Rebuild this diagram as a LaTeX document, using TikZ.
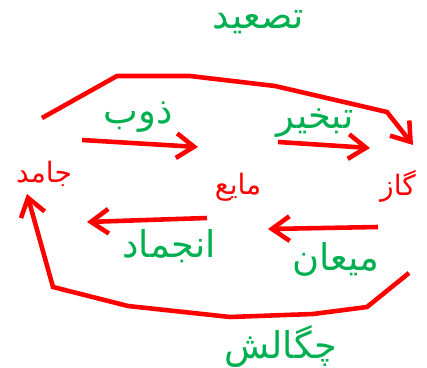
\documentclass[tikz,border=0pt]{standalone}
\usepackage{fontspec}
\usetikzlibrary{arrows.meta}
\TeXXeTstate=1
\newfontfamily\arabicfont[Script=Arabic]{DejaVu Sans}
\definecolor{pgreen}{HTML}{00B050}
\definecolor{pred}{HTML}{FF0000}
\tikzset{
  flow/.style={draw=pred, line width=2.6pt, line join=miter, -{Straight Barb[length=10pt,width=14pt]}},
  greenlbl/.style={text=pgreen, font=\arabicfont\fontsize{21}{24}\selectfont, inner sep=0pt},
  redlbl/.style={text=pred, font=\arabicfont\fontsize{16}{18}\selectfont, inner sep=0pt}
}
\begin{document}
\begin{tikzpicture}[x=0.02cm,y=-0.02cm]
\useasboundingbox (0,0) rectangle (427,368);
% labels
\node[greenlbl] (tas) at (258,22) {\beginR تصعید\endR};
\node[greenlbl] (zob) at (138,117) {\beginR ذوب\endR};
\node[greenlbl] (tab) at (315,123) {\beginR تبخیر\endR};
\node[redlbl] (jam) at (44,174) {\beginR جامد\endR};
\node[redlbl] (may) at (238,187) {\beginR مایع\endR};
\node[redlbl] (gaz) at (398,186) {\beginR گاز\endR};
\node[greenlbl] (enj) at (169,246) {\beginR انجماد\endR};
\node[greenlbl] (mia) at (336,259) {\beginR میعان\endR};
\node[greenlbl] (che) at (281,346) {\beginR چگالش\endR};
% coordinates
\coordinate (s1) at (42,118);
\coordinate (t1) at (413,145);
\coordinate (a1s) at (82,140);
\coordinate (a1t) at (198,147);
\coordinate (a2s) at (278,142);
\coordinate (a2t) at (370,148);
\coordinate (a3s) at (207,218);
\coordinate (a3t) at (87,222);
\coordinate (a4s) at (378,227);
\coordinate (a4t) at (268,229);
\coordinate (s2) at (409,273);
\coordinate (t2) at (27,194);
% connectors
\draw[flow] (s1) -- (117,76) -- (190,76) -- (275,86) -- (387,112) -- (t1);
\draw[flow] (a1s) -- (a1t);
\draw[flow] (a2s) -- (a2t);
\draw[flow] (a3s) -- (a3t);
\draw[flow] (a4s) -- (a4t);
\draw[flow] (s2) -- (367,307) -- (313,314) -- (230,317) -- (128,306) -- (53,287) -- (t2);
\end{tikzpicture}
\end{document}
